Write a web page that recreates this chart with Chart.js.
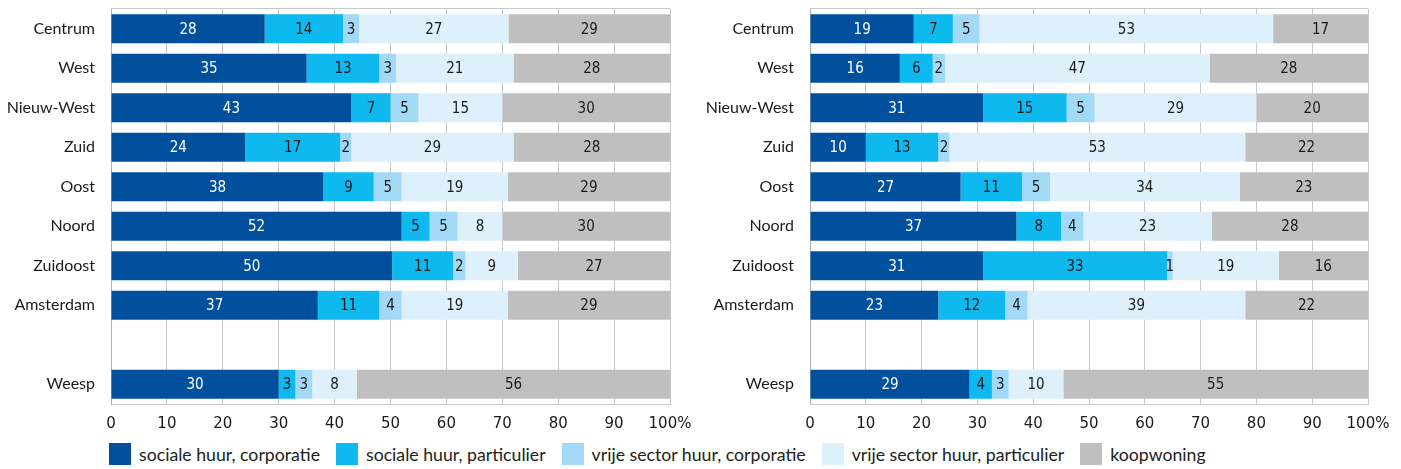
<!DOCTYPE html>
<html>
<head>
<meta charset="utf-8">
<script src="https://cdn.jsdelivr.net/npm/chart.js@4/dist/chart.umd.min.js"></script>
<style>
  body { margin: 0; background: #fff; width: 1401px; height: 469px; overflow: hidden; position: relative; }
  canvas { position: absolute; top: 0; }
  #leftChart { left: 0; }
  #rightChart { left: 700px; }
  #legend { position: absolute; left: 109px; top: 443px; display: flex; align-items: center;
            font-family: Lato, sans-serif; font-size: 17.7px; color: #222; }
  #legend .item { display: flex; align-items: center; margin-right: 16px; }
  #legend .sw { width: 22px; height: 22px; margin-right: 8px; }
</style>
</head>
<body>
<canvas id="leftChart" width="700" height="440"></canvas>
<canvas id="rightChart" width="700" height="440"></canvas>
<div id="legend"></div>
<script>
var districts = ['Centrum', 'West', 'Nieuw-West', 'Zuid', 'Oost', 'Noord', 'Zuidoost', 'Amsterdam', '', 'Weesp'];
var seriesNames = ['sociale huur, corporatie', 'sociale huur, particulier', 'vrije sector huur, corporatie', 'vrije sector huur, particulier', 'koopwoning'];
var seriesColors = ['#00509e', '#0db9ee', '#a2d9f7', '#ddf0fc', '#bfbfbf'];
var xTicks = [0, 10, 20, 30, 40, 50, 60, 70, 80, 90, 100];

// left panel
var leftSocialCorp = [27.5, 35, 43, 24, 38, 52, 50.3, 37, null, 30];
var leftSocialPriv = [14, 13, 7, 17, 9, 5, 10.9, 11, null, 3];
var leftFreeCorp = [2.9, 3, 5, 2, 5, 5, 2.2, 4, null, 3];
var leftFreePriv = [26.7, 21, 15, 29, 19, 8, 9.4, 19, null, 8];
var leftOwned = [28.9, 28, 30, 28, 29, 30, 27.2, 29, null, 56];

// right panel
var rightSocialCorp = [18.6, 16.1, 31, 10, 27, 37, 31, 23, null, 28.6];
var rightSocialPriv = [7, 5.9, 15, 13, 11, 8, 33, 12, null, 4];
var rightFreeCorp = [4.8, 2.2, 5, 2, 5, 4, 1, 4, null, 3];
var rightFreePriv = [52.6, 47.4, 29, 53, 34, 23, 19, 39, null, 9.8];
var rightOwned = [17, 28.4, 20, 22, 23, 28, 16, 22, null, 54.6];

var gridColor = '#c9c9c9';

var barLabels = {
    id: 'barLabels',
    afterDatasetsDraw: function (chart) {
        var ctx = chart.ctx;
        ctx.save();
        ctx.font = '15px "DejaVu Sans Condensed", "DejaVu Sans"';
        ctx.textAlign = 'center';
        ctx.textBaseline = 'middle';
        chart.data.datasets.forEach(function (ds, i) {
            var meta = chart.getDatasetMeta(i);
            meta.data.forEach(function (bar, j) {
                var v = ds.data[j];
                if (v === null) return;
                ctx.fillStyle = i === 0 ? '#ffffff' : '#1a1a1a';
                ctx.fillText(Math.round(v), (bar.x + bar.base) / 2, bar.y + 1);
            });
        });
        ctx.restore();
    }
};

var frame = {
    id: 'frame',
    beforeDatasetsDraw: function (chart) {
        var a = chart.chartArea, ctx = chart.ctx;
        ctx.save();
        ctx.strokeStyle = gridColor;
        ctx.lineWidth = 1;
        ctx.beginPath();
        ctx.moveTo(a.left, 8.5);
        ctx.lineTo(a.right, 8.5);
        ctx.stroke();
        ctx.restore();
    }
};

function makeChart(id, series, axisWidth, padRight) {
    var datasets = series.map(function (d, i) {
        return {
            label: seriesNames[i],
            data: d,
            backgroundColor: seriesColors[i],
            borderWidth: 0,
            barPercentage: 0.735,
            categoryPercentage: 1
        };
    });
    return new Chart(document.getElementById(id).getContext('2d'), {
        type: 'bar',
        data: { labels: districts, datasets: datasets },
        options: {
            indexAxis: 'y',
            responsive: false,
            animation: false,
            layout: { padding: { top: 9, right: padRight, left: 0, bottom: 0 } },
            plugins: { legend: { display: false }, tooltip: { enabled: false } },
            scales: {
                x: {
                    stacked: true,
                    min: 0,
                    max: 100,
                    afterBuildTicks: function (scale) {
                        scale.ticks = xTicks.map(function (v) { return { value: v }; });
                    },
                    afterFit: function (scale) {
                        scale.height = 36;
                        scale.paddingLeft = 0;
                        scale.paddingRight = 0;
                    },
                    grid: { color: gridColor, drawTicks: false },
                    border: { color: gridColor },
                    ticks: {
                        padding: 11,
                        color: '#1a1a1a',
                        font: { family: 'DejaVu Sans', size: 15 },
                        maxRotation: 0,
                        callback: function (v) { return v === 100 ? '100%' : v; }
                    }
                },
                y: {
                    stacked: true,
                    afterFit: function (scale) {
                        scale.width = axisWidth;
                        scale.paddingTop = 0;
                        scale.paddingBottom = 0;
                    },
                    grid: { display: false },
                    border: { color: '#b0b0b0' },
                    ticks: {
                        padding: 8,
                        color: '#1a1a1a',
                        font: { family: 'Lato', size: 16 }
                    }
                }
            }
        },
        plugins: [frame, barLabels]
    });
}

makeChart('leftChart', [leftSocialCorp, leftSocialPriv, leftFreeCorp, leftFreePriv, leftOwned], 111, 30);
makeChart('rightChart', [rightSocialCorp, rightSocialPriv, rightFreeCorp, rightFreePriv, rightOwned], 110, 32);

var legend = document.getElementById('legend');
seriesNames.forEach(function (name, i) {
    var item = document.createElement('div');
    item.className = 'item';
    var sw = document.createElement('div');
    sw.className = 'sw';
    sw.style.background = seriesColors[i];
    var txt = document.createElement('span');
    txt.textContent = name;
    item.appendChild(sw);
    item.appendChild(txt);
    legend.appendChild(item);
});
</script>
</body>
</html>
